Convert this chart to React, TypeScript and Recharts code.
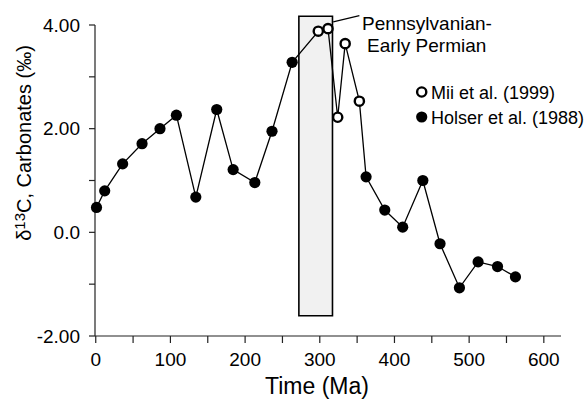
import React from 'react';
import { ComposedChart, Line, Scatter, XAxis, YAxis, ReferenceArea, ReferenceLine } from 'recharts';

const holserAge = [1, 12, 36, 62, 86, 108, 134, 162, 184, 213, 236, 263, 362, 387, 411, 438, 461, 487, 512, 538, 562];
const holserD13C = [0.48, 0.8, 1.32, 1.71, 2.0, 2.26, 0.68, 2.37, 1.21, 0.96, 1.95, 3.28, 1.07, 0.43, 0.1, 1.0, -0.22, -1.07, -0.57, -0.66, -0.86];
const miiAge = [298, 311, 324, 334, 353];
const miiD13C = [3.88, 3.93, 2.22, 3.64, 2.53];

const xTicks = [0, 50, 100, 150, 200, 250, 300, 350, 400, 450, 500, 550, 600];
const xTickLabels = ['0', '', '100', '', '200', '', '300', '', '400', '', '500', '', '600'];
const yTicks = [-2, -1, 0, 1, 2, 3, 4];
const yTickLabels = ['-2.00', '', '0.0', '', '2.00', '', '4.00'];

const periodStart = 272;
const periodEnd = 317;
const periodLabel = ['Pennsylvanian-', 'Early Permian'];
const legendNames = ['Mii et al. (1999)', 'Holser et al. (1988)'];

const holser = holserAge.map((a, i) => ({ age: a, d: holserD13C[i] }));
const mii = miiAge.map((a, i) => ({ age: a, d: miiD13C[i] }));
const combined = [...holser, ...mii].sort((p, q) => p.age - q.age);

const FONT = '"Liberation Sans", Arial, Helvetica, sans-serif';

const OpenDot = (props: any) => (
  <circle cx={props.cx} cy={props.cy} r={4.6} fill="#fff" stroke="#000" strokeWidth={2.4} />
);
const FilledDot = (props: any) => <circle cx={props.cx} cy={props.cy} r={5.6} fill="#000" />;

const YLabel = () => (
  <text
    x={0}
    y={0}
    transform="translate(31,143) rotate(-90)"
    textAnchor="middle"
    fontFamily={FONT}
    fontSize={20}
    fill="#000"
  >
    δ<tspan fontSize={15} dy={-6}>13</tspan>
    <tspan dy={6}>C, Carbonates (‰)</tspan>
  </text>
);

export default function App() {
  return (
    <div style={{ position: 'absolute', left: 0, top: 0, background: '#fff' }}>
      <ComposedChart
        width={587}
        height={400}
        margin={{ top: 25, right: 26, bottom: 14, left: 35 }}
        data={combined}
      >
        <XAxis
          dataKey="age"
          type="number"
          domain={[-1, 623]}
          ticks={xTicks}
          tickFormatter={(v: number) => xTickLabels[xTicks.indexOf(v)] ?? ''}
          height={50}
          tickSize={7}
          tickMargin={10}
          stroke="#222"
          strokeWidth={1.2}
          tick={{ fill: '#000', fontSize: 19, fontFamily: FONT }}
          interval={0}
          label={{
            value: 'Time (Ma)',
            position: 'insideBottom',
            offset: -8,
            dx: -11,
            style: { fontSize: 23, fontFamily: FONT, fill: '#000' },
          }}
        />
        <YAxis
          type="number"
          domain={[-2, 4]}
          ticks={yTicks}
          tickFormatter={(v: number) => yTickLabels[yTicks.indexOf(v)] ?? ''}
          width={60}
          tickSize={6}
          tickMargin={9}
          stroke="#222"
          strokeWidth={1.2}
          interval={0}
          tick={{ fill: '#000', fontSize: 19, fontFamily: FONT }}
        />
        <ReferenceArea
          x1={periodStart}
          x2={periodEnd}
          y1={-1.61}
          y2={4.17}
          ifOverflow="visible"
          fill="#f1f1f1"
          fillOpacity={1}
          stroke="#000"
          strokeWidth={1.6}
        />
        <ReferenceLine
          segment={[
            { x: 318, y: 4.06 },
            { x: 353, y: 4.18 },
          ]}
          ifOverflow="visible"
          stroke="#000"
          strokeWidth={1.2}
        />
        <Line
          dataKey="d"
          stroke="#000"
          strokeWidth={1.3}
          dot={false}
          activeDot={false}
          isAnimationActive={false}
        />
        <Scatter data={holser} dataKey="d" shape={FilledDot} isAnimationActive={false} />
        <Scatter data={mii} dataKey="d" shape={OpenDot} isAnimationActive={false} />
        <YLabel />
        <g fontFamily={FONT} fill="#000">
          <text x={362} y={30} fontSize={19}>{periodLabel[0]}</text>
          <text x={367} y={52} fontSize={19}>{periodLabel[1]}</text>
          <circle cx={421.7} cy={92} r={4.6} fill="#fff" stroke="#000" strokeWidth={2.4} />
          <text x={431} y={98.5} fontSize={18}>{legendNames[0]}</text>
          <circle cx={421.7} cy={117} r={5.6} fill="#000" />
          <text x={431} y={123.5} fontSize={18}>{legendNames[1]}</text>
        </g>
      </ComposedChart>
    </div>
  );
}
